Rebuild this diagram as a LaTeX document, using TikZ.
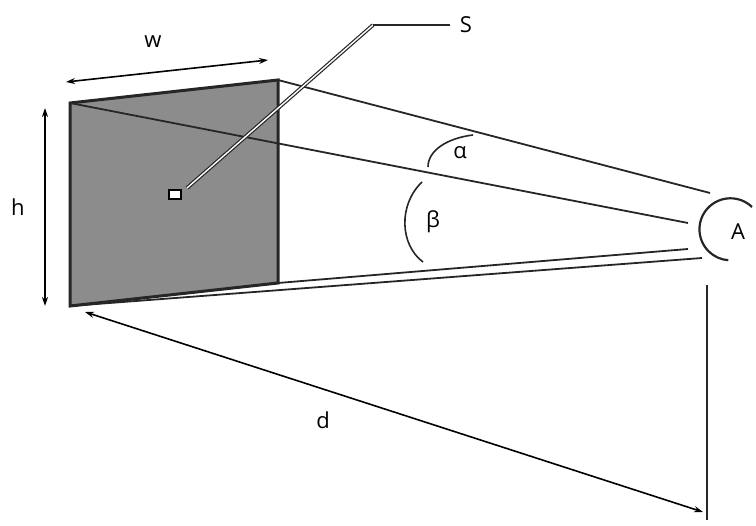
\documentclass[tikz,border=0pt]{standalone}
\usepackage{fontspec}
\setmainfont{Open Sans}
\usetikzlibrary{arrows.meta}
\begin{document}
\begin{tikzpicture}[x=1pt,y=-1pt,
  ln/.style={line width=1.8pt,draw=black!85},
  dim/.style={line width=1.6pt,{Stealth[length=9pt,width=6pt]}-{Stealth[length=9pt,width=6pt]}},
  lab/.style={font=\fontsize{22}{24}\selectfont}]
\useasboundingbox (0,0) rectangle (756,526);
\coordinate (TL) at (70,103); \coordinate (TR) at (278,80);
\coordinate (BR) at (278,283); \coordinate (BL) at (70,306);
\coordinate (e1) at (710,193); \coordinate (e2) at (688,223);
\coordinate (e3) at (688,249); \coordinate (e4) at (702,258);
\filldraw[fill=black!45,draw=black!85,line width=3pt] (TL)--(TR)--(BR)--(BL)--cycle;
\draw[ln] (TR)--(e1); \draw[ln] (TL)--(e2); \draw[ln] (BR)--(e3); \draw[ln] (BL)--(e4);
\draw[ln,line width=2.2pt] (752,207) arc[start angle=-46,end angle=-266,radius=31];
\node[lab] (A) at (738,232) {A};
\coordinate (v1) at (707,285); \coordinate (v2) at (707,520);
\draw[ln] (v1)--(v2);
\coordinate (d1) at (85,312); \coordinate (d2) at (703,512);
\draw[dim] (d1)--(d2);
\node[lab] (d) at (323,420) {d};
\coordinate (w1) at (66,82); \coordinate (w2) at (268,60);
\draw[dim] (w1)--(w2);
\node[lab] (w) at (153,42) {w};
\coordinate (h1) at (45,108); \coordinate (h2) at (45,306);
\draw[dim] (h1)--(h2);
\node[lab] (h) at (18,207) {h};
\coordinate (s0) at (187,188); \coordinate (s1) at (373,25); \coordinate (s2) at (450,25);
\draw[ln,line width=1.2pt,double=white,double distance=1.4pt] (s0)--(s1);
\draw[ln,line width=1.6pt] (s1)--(s2);
\node[draw=black,line width=2pt,fill=white,minimum width=12pt,minimum height=9pt,inner sep=0pt] (S0) at (175,195) {};
\node[lab] (S) at (466,25) {S};
\draw[ln,line width=1.6pt] (428,167) .. controls (428,150) and (448,138) .. (473,135);
\draw[ln,line width=1.6pt] (422,182) .. controls (398,205) and (400,245) .. (423,262);
\node[lab] (al) at (460,153) {α};
\node[lab] (be) at (433,222) {β};
\end{tikzpicture}
\end{document}
